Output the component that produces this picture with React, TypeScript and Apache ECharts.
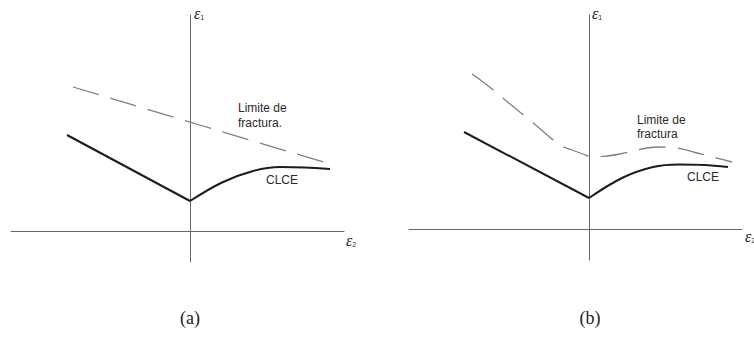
import React, { useEffect, useRef } from "react";
import * as echarts from "echarts";

// Panel (a): forming limit curve (CLCE) and a straight fracture limit
const clceLeftA: [number, number][] = [[-12.3, 9.6], [0, 3.0]];
const clceRightA: [number, number][] = [
  [0, 3.0], [3.2, 4.85], [6.3, 6.0], [9.0, 6.4], [11.5, 6.35], [14, 6.2],
];
const fractureA: [number, number][] = [[-11.7, 14.4], [14, 6.7]];

// Panel (b): same CLCE, fracture limit with a dip near plane strain
const clceLeftB: [number, number][] = [[-12.5, 9.7], [0, 3.1]];
const clceRightB: [number, number][] = [
  [0, 3.1], [3.3, 5.1], [6.4, 6.2], [9.0, 6.45], [11.5, 6.4], [13.9, 6.2],
];
const fractureB: [number, number][] = [
  [-11.7, 15.5], [-10.2, 14.4], [-7.9, 12.5], [-5.7, 10.7], [-2.9, 8.4], [-1.7, 7.9],
  [-0.6, 7.5], [0.4, 7.2], [1.8, 7.3], [3.1, 7.5], [5.8, 8.1], [7.1, 8.2], [8.8, 8.1],
  [10.8, 7.6], [12.4, 7.2], [14.3, 6.7],
];

const xRangeA = [-17.9, 15.4];
const yRangeA = [-3.1, 21.6];
const xRangeB = [-18.0, 15.3];
const yRangeB = [-3.1, 21.4];

const captions = ["(a)", "(b)"];
const fractureLabels = ["Limite de\nfractura.", "Limite de\nfractura"];

const AXIS_COLOR = "#666";
const SOLID_COLOR = "#1c1c1c";
const DASH_COLOR = "#808080";
const SANS = "'Liberation Sans', Arial, sans-serif";
const SERIF = "'Liberation Serif', 'Times New Roman', serif";

function axisPair(gridIndex: number, xr: number[], yr: number[]) {
  const common = {
    type: "value" as const,
    gridIndex,
    axisTick: { show: false },
    axisLabel: { show: false },
    splitLine: { show: false },
    axisLine: { show: true, onZero: true, lineStyle: { color: AXIS_COLOR, width: 1 } },
  };
  return {
    x: { ...common, min: xr[0], max: xr[1] },
    y: { ...common, min: yr[0], max: yr[1] },
  };
}

function solid(data: [number, number][], idx: number, smooth: boolean) {
  return {
    type: "line",
    xAxisIndex: idx,
    yAxisIndex: idx,
    data,
    smooth: smooth ? 0.35 : false,
    showSymbol: false,
    symbol: "none",
    lineStyle: { color: SOLID_COLOR, width: 2 },
  };
}

function dashed(data: [number, number][], idx: number) {
  return {
    type: "line",
    xAxisIndex: idx,
    yAxisIndex: idx,
    data,
    smooth: 0.4,
    symbol: "none",
    lineStyle: { color: DASH_COLOR, width: 1.3, type: [27, 12] },
  };
}

function epsilon(x: number, y: number, sub: string) {
  return {
    type: "text",
    x,
    y,
    style: {
      text: `{e|ε}{s|${sub}}`,
      rich: {
        e: { fontFamily: SERIF, fontStyle: "italic", fontSize: 16, fill: "#222" },
        s: { fontFamily: SANS, fontSize: 7, fill: "#333", verticalAlign: "bottom", padding: [6, 0, 0, 0] },
      },
      verticalAlign: "middle",
    },
  };
}

export default function App() {
  const ref = useRef<HTMLDivElement>(null);

  useEffect(() => {
    document.body.style.margin = "0";
    if (!ref.current) return;
    const chart = echarts.init(ref.current, null, { renderer: "svg" });
    const a = axisPair(0, xRangeA, yRangeA);
    const b = axisPair(1, xRangeB, yRangeB);

    chart.setOption({
      animation: false,
      backgroundColor: "#fff",
      grid: [
        { left: 11, top: 15, width: 333, height: 247 },
        { left: 409, top: 15, width: 333, height: 245 },
      ],
      xAxis: [a.x, b.x],
      yAxis: [a.y, b.y],
      series: [
        dashed(fractureA, 0),
        solid(clceLeftA, 0, false),
        solid(clceRightA, 0, true),
        dashed(fractureB, 1),
        solid(clceLeftB, 1, false),
        solid(clceRightB, 1, true),
      ],
      graphic: [
        epsilon(194, 13, "1"),
        epsilon(346, 240, "2"),
        epsilon(592, 13, "1"),
        epsilon(745, 236, "2"),
        {
          type: "text",
          x: 238,
          y: 100,
          style: { text: fractureLabels[0], font: `12px ${SANS}`, fill: "#2a2a2a", lineHeight: 15 },
        },
        {
          type: "text",
          x: 637,
          y: 113,
          style: { text: fractureLabels[1], font: `12px ${SANS}`, fill: "#2a2a2a", lineHeight: 14 },
        },
        {
          type: "text",
          x: 266,
          y: 180,
          style: { text: "CLCE", font: `12px ${SANS}`, fill: "#2a2a2a", verticalAlign: "middle" },
        },
        {
          type: "text",
          x: 687,
          y: 177,
          style: { text: "CLCE", font: `12px ${SANS}`, fill: "#2a2a2a", verticalAlign: "middle" },
        },
        {
          type: "text",
          x: 190,
          y: 318,
          style: { text: captions[0], font: `18px ${SERIF}`, fill: "#222", align: "center", verticalAlign: "middle" },
        },
        {
          type: "text",
          x: 590,
          y: 318,
          style: { text: captions[1], font: `18px ${SERIF}`, fill: "#222", align: "center", verticalAlign: "middle" },
        },
      ],
    });

    return () => chart.dispose();
  }, []);

  return <div ref={ref} style={{ width: 754, height: 340 }} />;
}
